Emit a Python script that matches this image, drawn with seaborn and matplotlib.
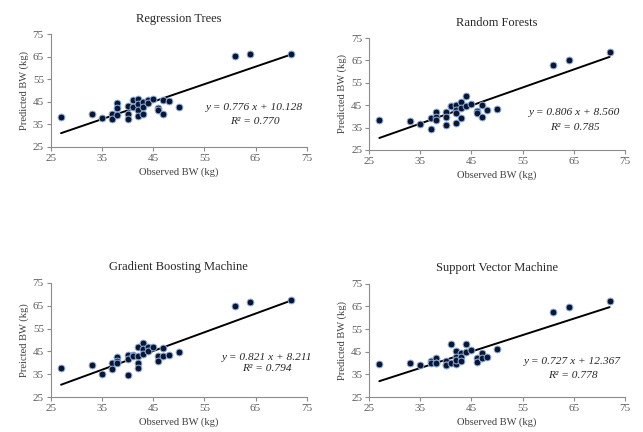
import numpy as np
import pandas as pd
import matplotlib
matplotlib.use('Agg')
import matplotlib.pyplot as plt
import seaborn as sns

# observed body weights (same animals in every panel)
observed = [27, 33, 35, 37, 37, 38, 38, 38, 40, 40, 40, 41, 41, 42, 42, 42, 42,
            43, 43, 43, 44, 44, 45, 46, 46, 47, 47, 48, 50, 61, 64, 72]

pred_rt = [38.1, 39.5, 37.9, 39.4, 37.3, 44.3, 42.1, 39.1, 43.1, 39.8, 37.2, 45.8, 42.5,
           46.1, 44.0, 41.3, 38.6, 45.0, 42.5, 39.8, 45.8, 44.5, 46.4, 42.1, 41.5,
           45.8, 39.8, 45.5, 42.5, 65.4, 66.1, 66.2]
pred_rf = [38.4, 37.7, 36.6, 39.2, 34.4, 42.0, 39.9, 38.4, 42.0, 39.9, 36.2, 44.7, 44.7,
           45.1, 42.9, 41.4, 37.2, 46.2, 43.7, 39.2, 49.2, 44.4, 45.6, 42.6, 41.4,
           45.1, 39.6, 42.9, 43.5, 62.8, 65.1, 68.6]
pred_gbm = [37.6, 39.1, 34.9, 40.0, 37.1, 42.4, 40.9, 39.7, 43.5, 41.8, 34.6, 43.4, 43.0,
            47.1, 42.9, 39.7, 37.6, 48.5, 45.9, 43.8, 46.8, 45.3, 47.1, 42.9, 40.6,
            46.3, 42.9, 43.2, 44.9, 65.0, 66.5, 67.4]
pred_svm = [39.4, 40.1, 39.1, 41.0, 40.1, 42.2, 40.1, 40.1, 41.0, 39.2, 39.2, 48.4, 40.1,
            45.5, 42.8, 39.4, 41.5, 44.6, 42.8, 41.0, 48.3, 45.0, 45.8, 42.1, 40.6,
            44.6, 42.1, 42.8, 46.1, 62.4, 64.6, 67.6]

titles = ['Regression Trees', 'Random Forests', 'Gradient Boosting Machine', 'Support Vector Machine']
ylabels = ['Predicted BW (kg)', 'Predicted BW (kg)', 'Preicted BW (kg)', 'Predicted BW (kg)']
slopes = [0.776, 0.806, 0.821, 0.727]
intercepts = [10.128, 8.560, 8.211, 12.367]
r2 = [0.770, 0.785, 0.794, 0.778]
ticks = [25, 35, 45, 55, 65, 75]

sns.set_style('white')
plt.rcParams['font.family'] = ['Liberation Serif', 'DejaVu Serif']

fig = plt.figure(figsize=(6.43, 4.32), dpi=100)
positions = [[0.079, 0.660, 0.398, 0.261],
             [0.574, 0.653, 0.398, 0.259],
             [0.079, 0.081, 0.398, 0.264],
             [0.574, 0.081, 0.398, 0.262]]
label_pos = [(64.8, 42.3, 36.1), (65.2, 41.5, 34.8), (67.2, 42.5, 37.7), (64.8, 40.5, 34.3)]
preds = [pred_rt, pred_rf, pred_gbm, pred_svm]

for i in range(4):
    ax = fig.add_axes(positions[i])
    df = pd.DataFrame({'obs': observed, 'pred': preds[i]})
    sns.scatterplot(data=df, x='obs', y='pred', ax=ax, s=24, color='#0a1633',
                    edgecolor='#8fb0dd', linewidth=0.7, zorder=3)
    xs = np.array([min(observed), max(observed)])
    sns.lineplot(x=xs, y=slopes[i] * xs + intercepts[i], ax=ax, color='black', linewidth=1.4, zorder=2)

    ax.set_xlim(25, 75)
    ax.set_ylim(25, 75)
    ax.set_xticks(ticks)
    ax.set_yticks(ticks)
    ax.tick_params(axis='both', labelsize=8, colors='#8c8c8c', labelcolor='#595959',
                   direction='out', length=3, width=0.8, bottom=True, left=True, pad=2)
    for side in ['top', 'right']:
        ax.spines[side].set_visible(False)
    for side in ['left', 'bottom']:
        ax.spines[side].set_color('#8c8c8c')
        ax.spines[side].set_linewidth(0.8)
    ax.set_title(titles[i], fontsize=9, color='#262626', pad=9)
    ax.set_xlabel('Observed BW (kg)', fontsize=7.6, color='#404040', labelpad=3)
    ax.set_ylabel(ylabels[i], fontsize=7.6, color='#404040', labelpad=3)

    lx, ly1, ly2 = label_pos[i]
    ax.text(lx, ly1, f'y = {slopes[i]:.3f} x + {intercepts[i]:.3f}', ha='center', va='center',
            fontsize=8.2, style='italic', color='#262626')
    ax.text(lx, ly2, f'R² = {r2[i]:.3f}', ha='center', va='center',
            fontsize=8.2, style='italic', color='#262626')

fig.savefig('out.png', dpi=100, facecolor='white')
